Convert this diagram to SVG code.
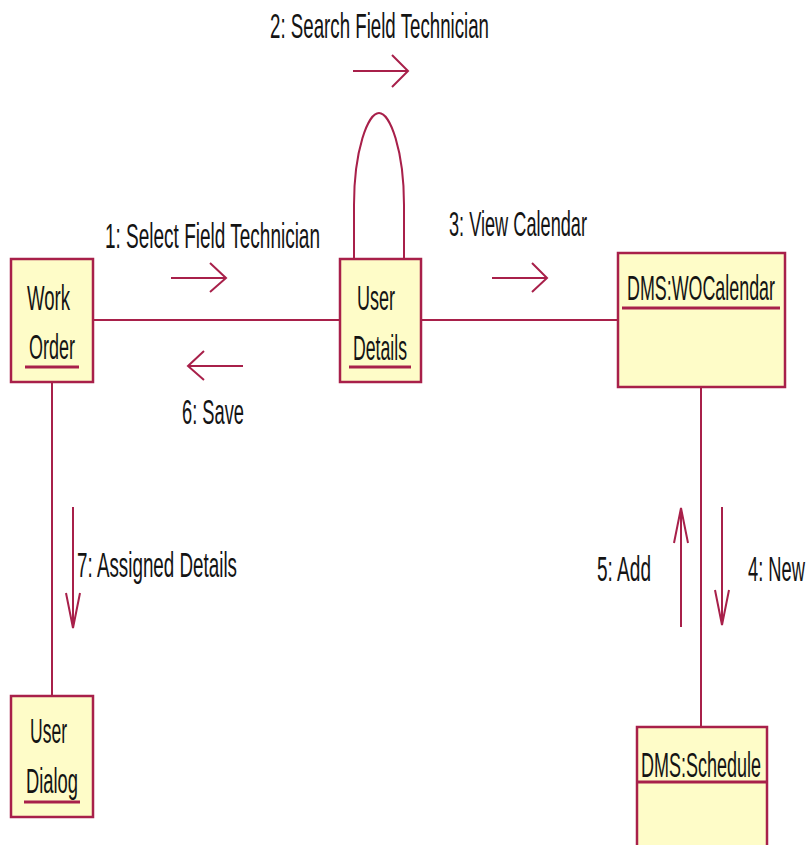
<svg xmlns="http://www.w3.org/2000/svg" width="811" height="845" viewBox="0 0 811 845">
<style>
.box{fill:#fefcc8;stroke:#a8204a;stroke-width:2.5}
.ln{fill:none;stroke:#a8204a;stroke-width:2}
.ul{stroke:#a8204a;stroke-width:3}
.t{font-family:"Liberation Sans",Arial,sans-serif;font-size:35px;fill:#141414}
</style>
<rect width="811" height="845" fill="#ffffff"/>
<g id="connectors">
<line class="ln" x1="93" y1="320" x2="340" y2="320"/>
<line class="ln" x1="421" y1="320" x2="618" y2="320"/>
<line class="ln" x1="52" y1="382" x2="52" y2="696"/>
<line class="ln" x1="701" y1="387" x2="701" y2="727"/>
<path class="ln" d="M354,259 L354,205 C354,150 368,113 379,113 C390,113 404,150 404,205 L404,259"/>
<g id="msg1">
<path class="ln" d="M171,278 H226 M210,263 L226,278 L210,292"/>
<text class="t" x="105" y="248" textLength="215" lengthAdjust="spacingAndGlyphs">1: Select Field Technician</text>
</g>
<g id="msg2">
<path class="ln" d="M353,71 H408 M392,55 L408,71 L392,87"/>
<text class="t" x="270" y="38" textLength="219" lengthAdjust="spacingAndGlyphs">2: Search Field Technician</text>
</g>
<g id="msg3">
<path class="ln" d="M492,278 H547 M532,263 L547,278 L532,292"/>
<text class="t" x="449" y="236" textLength="138" lengthAdjust="spacingAndGlyphs">3: View Calendar</text>
</g>
<g id="msg4">
<path class="ln" d="M722,507 V625 M715,590 L722,625 L729,590"/>
<text class="t" x="748" y="581" textLength="57" lengthAdjust="spacingAndGlyphs">4: New</text>
</g>
<g id="msg5">
<path class="ln" d="M681,627 V508 M674,543 L681,508 L688,543"/>
<text class="t" x="597" y="581" textLength="54" lengthAdjust="spacingAndGlyphs">5: Add</text>
</g>
<g id="msg6">
<path class="ln" d="M243,366 H188 M204,351 L188,366 L204,380"/>
<text class="t" x="182" y="424" textLength="62" lengthAdjust="spacingAndGlyphs">6: Save</text>
</g>
<g id="msg7">
<path class="ln" d="M73,507 V628 M66,593 L73,628 L80,593"/>
<text class="t" x="77" y="577" textLength="160" lengthAdjust="spacingAndGlyphs">7: Assigned Details</text>
</g>
</g>
<g id="workOrder">
<rect class="box" x="11" y="259" width="82" height="123"/>
<text class="t" x="27" y="310" textLength="43" lengthAdjust="spacingAndGlyphs">Work</text>
<text class="t" x="29" y="359" textLength="46" lengthAdjust="spacingAndGlyphs">Order</text>
<line class="ul" x1="25" y1="367" x2="79" y2="367"/>
</g>
<g id="userDetails">
<rect class="box" x="340" y="259" width="81" height="123"/>
<text class="t" x="357" y="310" textLength="38" lengthAdjust="spacingAndGlyphs">User</text>
<text class="t" x="353" y="360" textLength="54" lengthAdjust="spacingAndGlyphs">Details</text>
<line class="ul" x1="349" y1="367" x2="411" y2="367"/>
</g>
<g id="woCalendar">
<rect class="box" x="618" y="253" width="167" height="134"/>
<text class="t" x="627" y="300" textLength="148" lengthAdjust="spacingAndGlyphs">DMS:WOCalendar</text>
<line class="ul" x1="622" y1="308" x2="780" y2="308"/>
</g>
<g id="userDialog">
<rect class="box" x="11" y="696" width="82" height="121"/>
<text class="t" x="30" y="743" textLength="37" lengthAdjust="spacingAndGlyphs">User</text>
<text class="t" x="26" y="793" textLength="52" lengthAdjust="spacingAndGlyphs">Dialog</text>
<line class="ul" x1="24" y1="802" x2="80" y2="802"/>
</g>
<g id="schedule">
<rect class="box" x="637" y="727" width="130" height="130"/>
<text class="t" x="641" y="777" textLength="120" lengthAdjust="spacingAndGlyphs">DMS:Schedule</text>
<line class="ul" x1="637" y1="782" x2="767" y2="782"/>
</g>
</svg>
